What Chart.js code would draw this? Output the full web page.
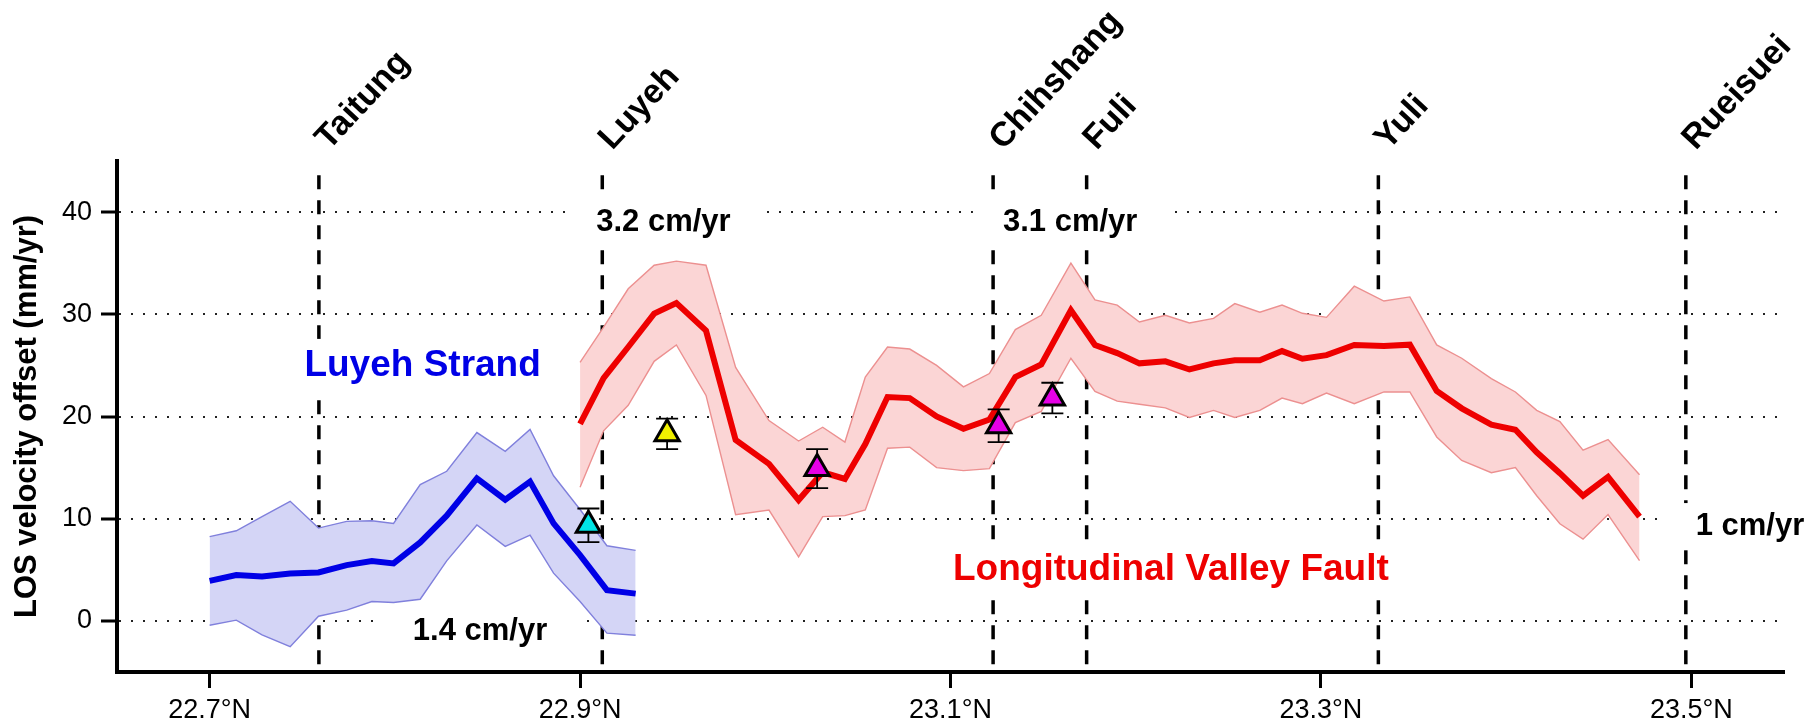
<!DOCTYPE html>
<html>
<head>
<meta charset="utf-8">
<script src="https://cdn.jsdelivr.net/npm/chart.js@4.4.1/dist/chart.umd.min.js"></script>
<style>
  html, body { margin: 0; padding: 0; background: #fff; }
  #wrap { width: 1812px; height: 728px; }
</style>
</head>
<body>
<div id="wrap"><canvas id="losChart" width="1812" height="728"></canvas></div>
<script>
// Luyeh Strand profile (blue)
const blueLat  = [22.700, 22.7144, 22.7283, 22.7435, 22.7588, 22.774, 22.7876, 22.7993, 22.8137, 22.828, 22.8443, 22.8596, 22.873, 22.8857, 22.900, 22.9145, 22.930];
const blueMid  = [3.92, 4.48, 4.35, 4.64, 4.74, 5.46, 5.85, 5.62, 7.68, 10.3, 13.95, 11.86, 13.63, 9.54, 6.44, 3.01, 2.67];
const blueHigh = [8.24, 8.82, 10.2, 11.7, 9.08, 9.74, 9.8, 9.54, 13.33, 14.64, 18.43, 16.6, 18.73, 14.2, 10.9, 7.35, 6.9];
const blueLow  = [-0.42, 0.07, -1.37, -2.52, 0.46, 1.05, 1.9, 1.8, 2.12, 5.88, 9.38, 7.29, 8.4, 4.67, 1.9, -1.2, -1.4];

// Longitudinal Valley Fault profile (red)
const redLat  = [22.900, 22.9127, 22.926, 22.940, 22.952, 22.968, 22.984, 23.002, 23.018, 23.031, 23.043, 23.054, 23.066, 23.078, 23.0925,
                 23.107, 23.121, 23.135, 23.149, 23.165, 23.178, 23.190, 23.202, 23.216, 23.229, 23.242, 23.2535, 23.267, 23.279, 23.290,
                 23.303, 23.318, 23.334, 23.348, 23.3625, 23.376, 23.392, 23.405, 23.4165, 23.429, 23.4415, 23.455, 23.472];
const redMid  = [19.28, 23.76, 26.8, 30.07, 31.1, 28.4, 17.7, 15.36, 11.83, 14.54, 13.89, 17.3, 21.9, 21.8, 20.0,
                 18.8, 19.7, 23.85, 25.1, 30.4, 27.0, 26.2, 25.2, 25.4, 24.6, 25.2, 25.5, 25.5, 26.4, 25.65,
                 26.0, 27.0, 26.9, 27.03, 22.5, 20.8, 19.2, 18.7, 16.5, 14.45, 12.25, 14.1, 10.2];
const redHigh = [25.3, 28.75, 32.5, 34.8, 35.2, 34.8, 24.8, 19.6, 17.6, 18.95, 17.5, 23.85, 26.8, 26.6, 25.0,
                 22.9, 24.2, 28.5, 29.9, 35.0, 31.4, 30.9, 29.25, 29.9, 29.15, 29.6, 31.05, 30.2, 30.9, 30.1,
                 29.7, 32.75, 31.3, 31.7, 27.0, 25.7, 23.7, 22.4, 20.6, 19.5, 16.7, 17.75, 14.3];
const redLow  = [13.07, 18.6, 21.1, 25.4, 27.0, 22.06, 10.4, 10.85, 6.27, 10.2, 10.3, 10.85, 16.9, 17.0, 15.0,
                 14.7, 14.9, 19.4, 20.5, 25.7, 22.45, 21.5, 21.2, 20.85, 19.9, 20.6, 19.9, 20.6, 21.8, 21.25,
                 22.3, 21.25, 22.4, 22.4, 18.0, 15.7, 14.5, 15.0, 12.25, 9.5, 8.0, 10.4, 5.9];

// GPS / creepmeter offsets with error bars
const gpsLat = [22.9045, 22.947, 23.028, 23.126, 23.155];
const gpsVel = [9.35, 18.3, 14.9, 19.1, 21.8];
const gpsErr = [1.65, 1.5, 1.9, 1.6, 1.5];
const gpsFill = ['#00e5e5', '#f0f000', '#e600e6', '#e600e6', '#e600e6'];

// towns (dashed reference lines)
const townNames = ['Taitung', 'Luyeh', 'Chihshang', 'Fuli', 'Yuli', 'Rueisuei'];
const townLat   = [22.759, 22.912, 23.123, 23.1735, 23.331, 23.497];
const townLineTop = 43.6;

// text notes
const noteTexts = ['Luyeh Strand', '3.2 cm/yr', '3.1 cm/yr', '1.4 cm/yr', '1 cm/yr', 'Longitudinal Valley Fault'];
const noteLat   = [22.815, 22.945, 23.1646, 22.846, 23.5316, 23.219];
const noteVel   = [25.0, 39.0, 39.0, -1.03, 9.23, 5.0];
const noteColor = ['#0000e6', '#000', '#000', '#000', '#000', '#ee0000'];
const noteSize  = [37, 31, 31, 31, 31, 37];

// axes
const xTicks = [22.7, 22.9, 23.1, 23.3, 23.5];
const yTicks = [0, 10, 20, 30, 40];
const xMin = 22.65, xMax = 23.55, yMin = -5, yMax = 45;

const FONT = "'Liberation Sans', Arial, Helvetica, sans-serif";
Chart.defaults.font.family = FONT;
Chart.defaults.color = '#000';

const pts = (lats, vals) => lats.map((lat, i) => ({ x: lat, y: vals[i] }));

const townLineSets = townLat.map(lat => ({
    type: 'line',
    label: 'town',
    data: [{ x: lat, y: townLineTop }, { x: lat, y: yMin }],
    borderColor: '#000',
    borderWidth: 3.5,
    borderDash: [14, 11],
    pointRadius: 0,
    fill: false,
    order: 10
}));

const errorBarPlugin = {
    id: 'gpsErrorBars',
    beforeDatasetDraw(chart, args) {
        if (chart.data.datasets[args.index].label !== 'GPS') return;
        const { ctx, scales: { x, y } } = chart;
        ctx.save();
        ctx.strokeStyle = '#000';
        ctx.lineWidth = 1.8;
        gpsLat.forEach((lat, i) => {
            const px = x.getPixelForValue(lat);
            const top = y.getPixelForValue(gpsVel[i] + gpsErr[i]);
            const bot = y.getPixelForValue(gpsVel[i] - gpsErr[i]);
            ctx.beginPath();
            ctx.moveTo(px, top); ctx.lineTo(px, bot);
            ctx.moveTo(px - 11, top); ctx.lineTo(px + 11, top);
            ctx.moveTo(px - 11, bot); ctx.lineTo(px + 11, bot);
            ctx.stroke();
        });
        ctx.restore();
    }
};

const notesPlugin = {
    id: 'profileNotes',
    afterDatasetsDraw(chart) {
        const { ctx, scales: { x, y } } = chart;
        ctx.save();
        ctx.textAlign = 'center';
        ctx.textBaseline = 'middle';
        noteTexts.forEach((text, i) => {
            ctx.font = `bold ${noteSize[i]}px ${FONT}`;
            const px = x.getPixelForValue(noteLat[i]);
            const py = y.getPixelForValue(noteVel[i]);
            const w = ctx.measureText(text).width;
            ctx.fillStyle = '#fff';
            ctx.fillRect(px - w / 2 - 30, py - noteSize[i] / 2 - 8, w + 60, noteSize[i] + 16);
            ctx.fillStyle = noteColor[i];
            ctx.fillText(text, px, py);
        });
        ctx.restore();
    },
    afterDraw(chart) {
        // rotated town names above the dashed lines
        const { ctx, scales: { x } } = chart;
        ctx.save();
        ctx.font = `bold 34px ${FONT}`;
        ctx.fillStyle = '#000';
        ctx.textAlign = 'left';
        ctx.textBaseline = 'alphabetic';
        townNames.forEach((name, i) => {
            ctx.save();
            ctx.translate(x.getPixelForValue(townLat[i]) + 10, 151);
            ctx.rotate(-47 * Math.PI / 180);
            ctx.fillText(name, 0, 0);
            ctx.restore();
        });
        ctx.restore();
    }
};

new Chart(document.getElementById('losChart'), {
    type: 'line',
    data: {
        datasets: [
            ...townLineSets,
            { label: 'blueLow', data: pts(blueLat, blueLow), borderColor: '#8080dc', borderWidth: 1.4,
              pointRadius: 0, fill: false, order: 5 },
            { label: 'blueHigh', data: pts(blueLat, blueHigh), borderColor: '#8080dc', borderWidth: 1.4,
              pointRadius: 0, fill: '-1', backgroundColor: '#d4d5f6', order: 5 },
            { label: 'redLow', data: pts(redLat, redLow), borderColor: '#ec9090', borderWidth: 1.4,
              pointRadius: 0, fill: false, order: 5 },
            { label: 'redHigh', data: pts(redLat, redHigh), borderColor: '#ec9090', borderWidth: 1.4,
              pointRadius: 0, fill: '-1', backgroundColor: '#fbd5d5', order: 5 },
            { label: 'Luyeh Strand', data: pts(blueLat, blueMid), borderColor: '#0000e6', borderWidth: 6,
              pointRadius: 0, fill: false, order: 2 },
            { label: 'LVF', data: pts(redLat, redMid), borderColor: '#ee0000', borderWidth: 6,
              pointRadius: 0, fill: false, order: 2 },
            { label: 'GPS', data: pts(gpsLat, gpsVel), showLine: false, pointStyle: 'triangle',
              pointRadius: 14, pointBorderWidth: 3, pointBorderColor: '#000',
              pointBackgroundColor: gpsFill, order: 1 }
        ]
    },
    options: {
        responsive: false,
        animation: false,
        devicePixelRatio: 1,
        layout: { padding: { top: 161, right: 28, left: 0, bottom: 0 } },
        plugins: { legend: { display: false }, tooltip: { enabled: false } },
        elements: { line: { tension: 0 } },
        scales: {
            x: {
                type: 'linear',
                min: xMin,
                max: xMax,
                afterFit: s => { s.height = 56; },
                afterBuildTicks: s => { s.ticks = xTicks.map(v => ({ value: v })); },
                ticks: {
                    autoSkip: false,
                    maxRotation: 0,
                    padding: 6,
                    font: { size: 27 },
                    color: '#000',
                    callback: v => v.toFixed(1) + '°N'
                },
                grid: { drawOnChartArea: false, drawTicks: true, tickLength: 16, tickWidth: 3, tickColor: '#000' },
                border: { display: true, width: 4, color: '#000' }
            },
            y: {
                min: yMin,
                max: yMax,
                afterFit: s => { s.width = 117; },
                afterBuildTicks: s => { s.ticks = yTicks.map(v => ({ value: v })); },
                ticks: { padding: 9, font: { size: 27 }, color: '#000' },
                grid: {
                    color: '#222',
                    lineWidth: 2,
                    drawTicks: true,
                    tickLength: 16,
                    tickWidth: 3,
                    tickColor: '#000',
                    tickBorderDash: [1, 0]
                },
                border: { display: true, width: 4, color: '#000', dash: [2, 10] },
                title: {
                    display: true,
                    text: 'LOS velocity offset (mm/yr)',
                    font: { size: 31, weight: 'bold' },
                    color: '#000',
                    padding: { top: 9, bottom: 0 }
                }
            }
        }
    },
    plugins: [errorBarPlugin, notesPlugin]
});
</script>
</body>
</html>
